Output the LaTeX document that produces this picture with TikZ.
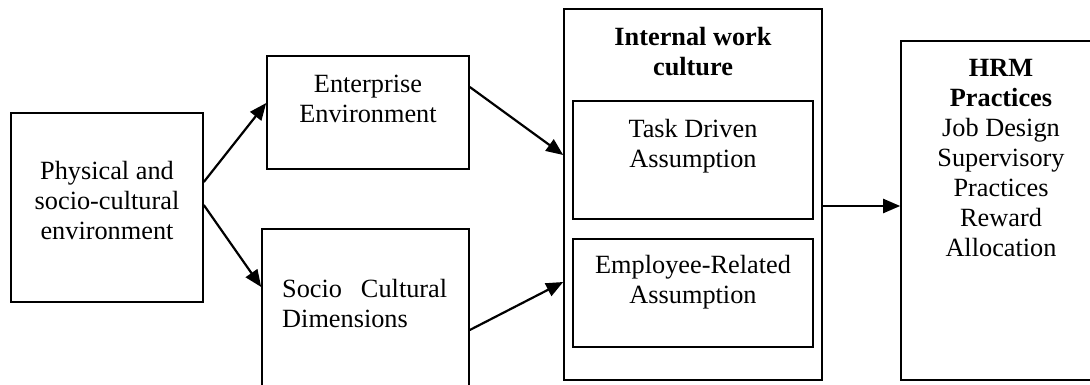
\documentclass[tikz,border=0pt]{standalone}
\usepackage{fontspec}
\setmainfont{Liberation Serif}
\usetikzlibrary{arrows.meta}
\begin{document}
\begin{tikzpicture}[x=1pt,y=-1pt,
  box/.style={draw,line width=1.6pt,minimum width=#1,inner sep=0pt},
  txt/.style={inner sep=0pt,align=center,font=\fontsize{26.3}{30}\selectfont},
  link/.style={line width=2.2pt,-{Triangle[length=17pt,width=14pt]}}]
\useasboundingbox (0,0) rectangle (1090,385);
\clip (0,0) rectangle (1090,385);
% boxes
\node[box=192pt,minimum height=189pt] (phys) at (107,207.5) {};
\node[box=202pt,minimum height=113pt] (ent)  at (368,112.5) {};
\node[box=207pt,minimum height=171pt] (soc)  at (365.5,314.5) {};
\node[box=258pt,minimum height=371pt] (iwc)  at (693,194.5) {};
\node[box=240pt,minimum height=118pt] (task) at (693,160) {};
\node[box=240pt,minimum height=108pt] (emp)  at (693,293) {};
\node[box=199pt,minimum height=339pt] (hrm)  at (1000.5,210.5) {};
% labels
\node[txt] (physT) at (107,201) {Physical and\\socio-cultural\\environment};
\node[txt] (entT) at (368,98.5) {Enterprise\\Environment};
\node[txt,align=left,anchor=west] (socT) at (282,303.5) {\makebox[165pt][s]{Socio Cultural}\\Dimensions};
\node[txt,font=\fontsize{26.3}{30}\selectfont\bfseries] (iwcT) at (693,52) {Internal work\\culture};
\node[txt] (taskT) at (693,146) {Task Driven\\Assumption};
\node[txt] (empT) at (693,282) {Employee-Related\\Assumption};
\node[txt] (hrmT) at (1001,158.5) {\textbf{HRM}\\\textbf{Practices}\\Job Design\\Supervisory\\Practices\\Reward\\Allocation};
% connectors
\draw[link] ([yshift=25.5pt]phys.east) -- ([yshift=9.5pt]ent.west);
\draw[link] ([yshift=2.5pt]phys.east) -- ([yshift=27.5pt]soc.west);
\draw[link] ([yshift=25.5pt]ent.east) -- ([yshift=39.5pt]iwc.west);
\draw[link] ([yshift=-15.5pt]soc.east) -- ([yshift=-87.5pt]iwc.west);
\draw[link] ([yshift=-11.5pt]iwc.east) -- ([yshift=-11.5pt]iwc.east -| hrm.west);
\end{tikzpicture}
\end{document}
